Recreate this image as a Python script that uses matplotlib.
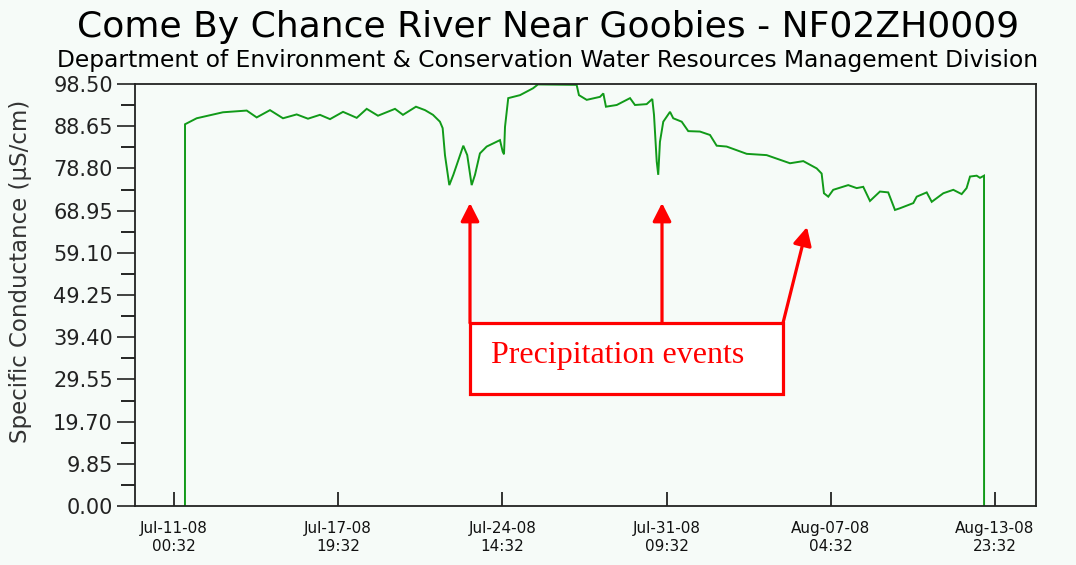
import matplotlib
matplotlib.use("Agg")
import matplotlib.pyplot as plt
from matplotlib.patches import Rectangle, FancyArrowPatch
import pandas as pd

# ---------------- data ----------------
title = "Come By Chance River Near Goobies - NF02ZH0009"
subtitle = "Department of Environment & Conservation Water Resources Management Division"
ylabel = "Specific Conductance (\u00b5S/cm)"
note = "Precipitation events"

base_time = "2008-07-11 00:32"
# hours after base_time
hours = [10.9, 10.95, 22.5, 48.6, 72.2, 82.1, 95.3, 108.2, 121.8, 133.0, 144.9,
         154.9, 167.8, 181.4, 191.3, 202.5, 219.4, 227.3, 240.2, 249.2, 257.1,
         264.0, 266.7, 269.0, 273.3, 277.3, 287.2, 291.1, 295.5, 298.8, 303.7,
         310.4, 323.6, 326.3, 327.6, 328.6, 331.8, 343.5, 356.4, 361.3, 399.7,
         402.0, 409.7, 422.9, 426.2, 428.8, 439.5, 452.7, 457.6, 469.2, 474.8,
         476.5, 479.2, 480.7, 482.4, 485.7, 492.4, 495.6, 504.0, 510.5, 522.1,
         532.1, 538.7, 548.6, 568.5, 588.3, 611.5, 624.7, 638.0, 642.9, 645.2,
         649.5, 654.4, 669.3, 677.7, 684.2, 690.9, 700.8, 709.0, 715.7, 720.7,
         733.9, 737.3, 747.2, 752.2, 763.7, 773.6, 781.9, 786.8, 790.2, 796.8,
         800.1, 804.1, 804.15]
conductance = [0.0, 89.1, 90.5, 91.9, 92.3, 90.7, 92.4, 90.5, 91.4, 90.4, 91.3,
               90.3, 92.0, 90.6, 92.7, 91.1, 92.7, 91.3, 93.2, 92.4, 91.3,
               89.7, 88.2, 81.9, 74.9, 77.3, 84.1, 81.9, 74.9, 77.3, 82.3,
               83.9, 85.4, 82.7, 82.1, 88.5, 95.2, 95.9, 97.5, 98.4, 98.3,
               95.9, 94.8, 95.5, 96.3, 93.2, 93.6, 95.2, 93.6, 93.8, 95.0,
               91.3, 80.4, 77.3, 85.0, 89.7, 92.0, 90.5, 89.7, 87.5, 87.4,
               86.6, 84.1, 83.9, 82.2, 81.9, 80.0, 80.5, 78.8, 77.6, 73.0,
               72.2, 73.8, 74.9, 74.2, 74.5, 71.2, 73.4, 73.2, 69.1, 69.5,
               70.7, 72.2, 73.2, 71.0, 73.0, 73.8, 72.8, 74.2, 76.9, 77.1,
               76.6, 77.1, 0.0]

y_ticks = [0.00, 9.85, 19.70, 29.55, 39.40, 49.25, 59.10, 68.95, 78.80, 88.65, 98.50]
x_tick_times = ["2008-07-11 00:32", "2008-07-17 19:32", "2008-07-24 14:32",
                "2008-07-31 09:32", "2008-08-07 04:32", "2008-08-13 23:32"]
x_limits = ["2008-07-09 09:50", "2008-08-15 16:14"]

# ---------------- figure ----------------
W, H = 1076, 565
BG = "#f6fbf8"
plt.rcParams["font.family"] = ["DejaVu Sans"]
fig = plt.figure(figsize=(W / 100, H / 100), dpi=100, facecolor=BG)

def fx(px):
    return px / W

def fy(py):
    return 1 - py / H

ax = fig.add_axes([fx(135), fy(506), fx(1036) - fx(135), fy(84) - fy(506)])
ax.set_facecolor(BG)

times = pd.Timestamp(base_time) + pd.to_timedelta(hours, unit="h")
ax.plot(times, conductance, color="#119a19", lw=1.4, solid_joinstyle="miter")

ax.set_ylim(y_ticks[0], y_ticks[-1])
ax.set_xlim(pd.Timestamp(x_limits[0]), pd.Timestamp(x_limits[1]))

ax.set_yticks(y_ticks)
ax.set_yticklabels([f"{v:.2f}" for v in y_ticks])
minor = [(a + b) / 2 for a, b in zip(y_ticks[:-1], y_ticks[1:])]
ax.set_yticks(minor, minor=True)
ax.tick_params(axis="y", which="major", direction="out", length=13, width=1.2,
               pad=3, labelsize=15, colors="#222222")
ax.tick_params(axis="y", which="minor", direction="out", length=10, width=1.2)

xt = [pd.Timestamp(t) for t in x_tick_times]
ax.set_xticks(xt)
ax.set_xticklabels([t.strftime("%b-%d-%y") + "\n" + t.strftime("%H:%M") for t in xt],
                   linespacing=1.2)
ax.tick_params(axis="x", which="major", direction="in", length=10, width=1.2,
               pad=11, labelsize=11, colors="#111111")

for s in ax.spines.values():
    s.set_color("#222222")
    s.set_linewidth(1.3)

# titles
fig.text(fx(548), fy(37.5), title, ha="center", va="baseline", fontsize=26, color="black")
fig.text(fx(548), fy(67), subtitle, ha="center", va="baseline", fontsize=16.8, color="black")
fig.text(fx(21), fy(271), ylabel, ha="center", va="center", rotation=90,
         fontsize=16.5, color="#333333")

# annotation overlay (in figure pixel space)
red = "#ff0000"
box = Rectangle((fx(470), fy(394)), fx(783) - fx(470), fy(323) - fy(394),
                transform=fig.transFigure, facecolor="white", edgecolor=red,
                lw=2.3, zorder=5)
fig.patches.append(box)
fig.text(fx(491), fy(356), note, ha="left", va="center", fontsize=23,
         family=["Liberation Serif", "DejaVu Serif"], color=red, zorder=6)

arrows = [((470, 323), (470, 203)), ((662, 323), (662, 203)), ((783, 323), (807, 227))]
for (x0, y0), (x1, y1) in arrows:
    a = FancyArrowPatch((fx(x0), fy(y0)), (fx(x1), fy(y1)), transform=fig.transFigure,
                        arrowstyle="-|>,head_length=0.55,head_width=0.28",
                        mutation_scale=20, color=red, lw=2.3, shrinkA=0, shrinkB=0,
                        zorder=6)
    fig.patches.append(a)

fig.savefig("out.png", dpi=100, facecolor=BG)
